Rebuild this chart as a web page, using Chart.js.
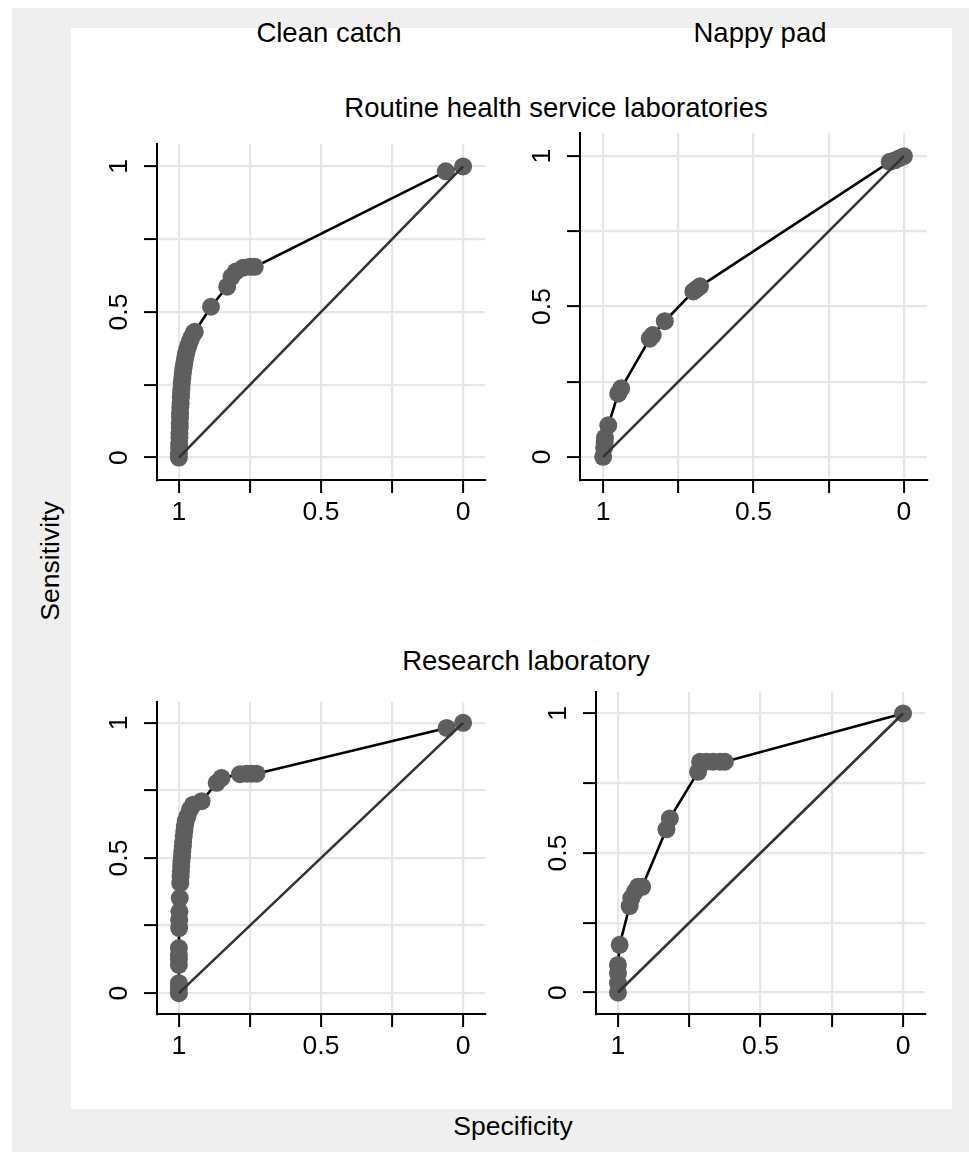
<!DOCTYPE html>
<html>
<head>
<meta charset="utf-8">
<script src="https://cdn.jsdelivr.net/npm/chart.js@4.4.0/dist/chart.umd.min.js"></script>
<style>
  body { margin: 0; width: 969px; height: 1152px; position: relative; background: #fff; overflow: hidden;
         font-family: "Liberation Sans", Arial, Helvetica, sans-serif; }
  #outer { position: absolute; left: 12px; top: 8px; right: 0; bottom: 0; background: #efefef; }
  #inner { position: absolute; left: 71px; top: 28px; width: 881px; height: 1081px; background: #fff; }
  .t { position: absolute; white-space: nowrap; line-height: 1; color: #000; transform: translateX(-50%); }
  .big { font-size: 27.5px; }
  .axt { font-size: 26.5px; }
  canvas { position: absolute; }
</style>
</head>
<body>
<div id="outer"></div>
<div id="inner"></div>

<div class="t big" style="left:329px; top:19px;">Clean catch</div>
<div class="t big" style="left:760px; top:19px;">Nappy pad</div>
<div class="t big" style="left:556px; top:94px;">Routine health service laboratories</div>
<div class="t big" style="left:526px; top:647px;">Research laboratory</div>
<div class="t axt" style="left:513px; top:1113px;">Specificity</div>
<div class="t axt" style="left:50px; top:561px; transform: translate(-50%, -50%) rotate(-90deg);">Sensitivity</div>

<canvas id="p1"></canvas>
<canvas id="p2"></canvas>
<canvas id="p3"></canvas>
<canvas id="p4"></canvas>

<script>
// axis ticks (same on both axes)
const tickValues = [0, 0.25, 0.5, 0.75, 1];
const tickLabels = ['0', '', '0.5', '', '1'];

// reference (chance) line
const refSpec = [1, 0];
const refSens = [0, 1];

// Clean catch - routine labs
const cleanRoutineSpec = [1.000, 1.000, 0.999, 0.999, 0.998, 0.998, 0.997, 0.997, 0.996, 0.996, 0.995, 0.994, 0.993, 0.992, 0.991, 0.990, 0.988, 0.986, 0.984, 0.981, 0.978, 0.975, 0.971, 0.966, 0.961, 0.955, 0.948, 0.944, 0.887, 0.830, 0.815, 0.800, 0.774, 0.750, 0.733, 0.061, 0.000];
const cleanRoutineSens = [0.000, 0.014, 0.034, 0.048, 0.069, 0.083, 0.103, 0.117, 0.138, 0.152, 0.172, 0.186, 0.207, 0.221, 0.238, 0.255, 0.272, 0.290, 0.307, 0.324, 0.341, 0.355, 0.372, 0.386, 0.400, 0.414, 0.428, 0.432, 0.518, 0.587, 0.621, 0.639, 0.652, 0.655, 0.655, 0.983, 1.000];

// Nappy pad - routine labs
const nappyRoutineSpec = [1.000, 0.997, 0.995, 0.994, 0.983, 0.950, 0.940, 0.845, 0.835, 0.795, 0.700, 0.690, 0.678, 0.047, 0.030, 0.015, 0.000];
const nappyRoutineSens = [0.000, 0.030, 0.048, 0.064, 0.105, 0.210, 0.228, 0.393, 0.405, 0.451, 0.550, 0.558, 0.567, 0.981, 0.986, 0.993, 1.000];

// Clean catch - research lab
const cleanResearchSpec = [1.000, 1.000, 1.000, 1.000, 1.000, 1.000, 1.000, 0.999, 0.999, 0.998, 0.997, 0.995, 0.994, 0.993, 0.992, 0.991, 0.989, 0.988, 0.986, 0.985, 0.983, 0.981, 0.979, 0.976, 0.970, 0.961, 0.950, 0.920, 0.867, 0.850, 0.785, 0.762, 0.745, 0.727, 0.058, 0.000];
const cleanResearchSens = [0.000, 0.020, 0.037, 0.105, 0.125, 0.142, 0.167, 0.241, 0.270, 0.302, 0.352, 0.407, 0.432, 0.450, 0.469, 0.488, 0.506, 0.525, 0.543, 0.560, 0.580, 0.600, 0.617, 0.636, 0.654, 0.679, 0.697, 0.710, 0.778, 0.796, 0.810, 0.812, 0.812, 0.812, 0.981, 1.000];

// Nappy pad - research lab
const nappyResearchSpec = [1.000, 1.000, 1.000, 1.000, 0.994, 0.959, 0.953, 0.941, 0.930, 0.915, 0.830, 0.818, 0.719, 0.712, 0.690, 0.666, 0.642, 0.625, 0.000];
const nappyResearchSens = [0.000, 0.034, 0.069, 0.099, 0.171, 0.310, 0.338, 0.361, 0.379, 0.379, 0.585, 0.624, 0.791, 0.827, 0.827, 0.827, 0.827, 0.827, 1.000];

const FONT = '"Liberation Sans", Arial, Helvetica, sans-serif';
const AXW = 70;   // room for y axis
const AXH = 70;   // room for x axis
const PAD = 10;

function labelFor(v) {
  const i = tickValues.indexOf(v);
  return i < 0 ? '' : tickLabels[i];
}

// y labels are drawn rotated, like the original
const yLabels = {
  id: 'yLabels',
  afterDraw(chart) {
    const ys = chart.scales.y;
    const ctx = chart.ctx;
    ctx.save();
    ctx.fillStyle = '#000';
    ctx.font = '26.5px ' + FONT;
    ctx.textAlign = 'center';
    ctx.textBaseline = 'alphabetic';
    tickValues.forEach(v => {
      const lab = labelFor(v);
      if (!lab) return;
      ctx.save();
      ctx.translate(chart.chartArea.left - 30, ys.getPixelForValue(v));
      ctx.rotate(-Math.PI / 2);
      ctx.fillText(lab, 0, 0);
      ctx.restore();
    });
    ctx.restore();
  }
};

function axis(isX) {
  return {
    type: 'linear',
    reverse: isX,
    min: -0.077,
    max: 1.077,
    afterBuildTicks: s => { s.ticks = tickValues.map(v => ({ value: v })); },
    afterFit: s => { if (isX) s.height = AXH; else s.width = AXW; },
    grid: { color: '#e6e6e6', lineWidth: 2.2, tickColor: '#000', tickLength: 13, tickWidth: 2 },
    border: { color: '#000', width: 2 },
    ticks: {
      display: isX,
      color: '#000',
      font: { family: FONT, size: 26.5 },
      padding: 4,
      maxRotation: 0,
      minRotation: 0,
      autoSkip: false,
      callback: v => labelFor(v)
    }
  };
}

function makePanel(id, box, spec, sens) {
  const cv = document.getElementById(id);
  cv.width = box.r - box.l + AXW + PAD;
  cv.height = box.b - box.t + AXH + PAD;
  cv.style.left = (box.l - AXW) + 'px';
  cv.style.top = (box.t - PAD) + 'px';

  new Chart(cv.getContext('2d'), {
    type: 'scatter',
    data: {
      datasets: [
        {
          data: refSpec.map((s, i) => ({ x: s, y: refSens[i] })),
          showLine: true,
          borderColor: '#333333',
          borderWidth: 2.6,
          pointRadius: 0,
          order: 0
        },
        {
          data: spec.map((s, i) => ({ x: s, y: sens[i] })),
          showLine: true,
          borderColor: '#000',
          borderWidth: 2.6,
          pointRadius: 9,
          pointBackgroundColor: '#5e5e5e',
          pointBorderWidth: 0,
          order: 1
        }
      ]
    },
    options: {
      responsive: false,
      animation: false,
      devicePixelRatio: 1,
      layout: { padding: { left: 0, top: PAD, right: PAD, bottom: 0 } },
      plugins: { legend: { display: false }, tooltip: { enabled: false } },
      scales: { x: axis(true), y: axis(false) }
    },
    plugins: [yLabels]
  });
}

makePanel('p1', { l: 157, t: 144, r: 485, b: 480 }, cleanRoutineSpec, cleanRoutineSens);
makePanel('p2', { l: 580, t: 133, r: 927, b: 480 }, nappyRoutineSpec, nappyRoutineSens);
makePanel('p3', { l: 157, t: 702, r: 485, b: 1014 }, cleanResearchSpec, cleanResearchSens);
makePanel('p4', { l: 596, t: 692, r: 925, b: 1014 }, nappyResearchSpec, nappyResearchSens);
</script>
</body>
</html>
